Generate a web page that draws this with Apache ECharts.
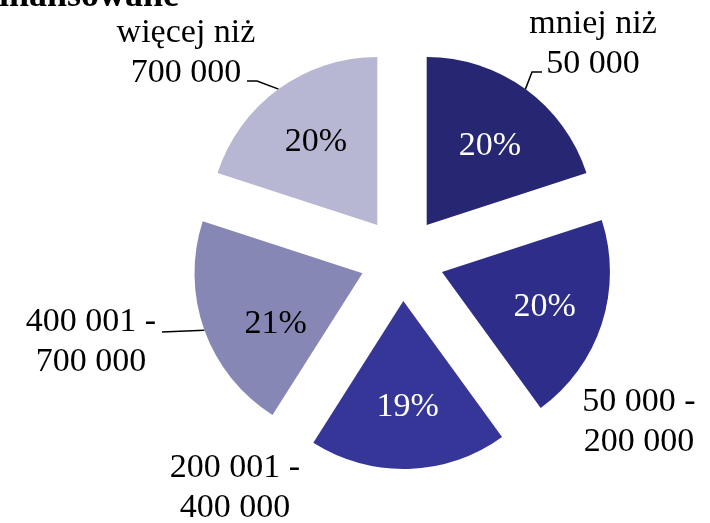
<!DOCTYPE html>
<html>
<head>
<meta charset="utf-8">
<script src="https://cdn.jsdelivr.net/npm/echarts@6/dist/echarts.min.js"></script>
<style>
html,body{margin:0;padding:0;background:#fff;}
#c{width:710px;height:523px;}
</style>
</head>
<body>
<div id="c"></div>
<script>
// Data
const titleText = 'współfinansowane';
const categories = ['mniej niż\n50 000', '50 000 -\n200 000', '200 001 -\n400 000', '400 001 -\n700 000', 'więcej niż\n700 000'];
const values = [20, 20, 19, 21, 20];
const colors = ['#262673', '#2e2e8a', '#363698', '#8787b5', '#b7b7d3'];
const pctColors = ['#ffffff', '#ffffff', '#ffffff', '#000000', '#000000'];

const FONT = '"Liberation Serif", "Times New Roman", serif';
const CX = 402, CY = 259, R = 168, OFF = 42;

// label placement (centre of each outside label block)
const labelPos = [[593, 44], [639, 422], [235, 488], [91, 342], [186, 53]];
// label line shape relative to label centre (after the default start point)
const lineRel = [
  [[-61, 28], [-51, 28]],
  null,
  null,
  [[71, -10]],
  [[71, 28], [61, 28]]
];
// small nudges of the percentage labels
const pctNudge = [[1, 7], [2, 2], [1, 0], [13, 15], [1, 3]];

const chart = echarts.init(document.getElementById('c'), null, {renderer: 'canvas'});

const sliceData = categories.map((n, i) => ({
  name: n, value: values[i], selected: true,
  itemStyle: {color: colors[i]}
}));
const labelData = categories.map((n, i) => ({
  name: n, value: values[i],
  labelLine: {show: !!lineRel[i]}
}));
const pctData = categories.map((n, i) => ({
  name: n, value: values[i],
  label: {color: pctColors[i]}
}));

chart.setOption({
  animation: false,
  title: {
    text: titleText,
    left: -106, top: -26,
    textStyle: {fontFamily: FONT, fontWeight: 'bold', fontSize: 36, color: '#000'}
  },
  series: [
    {
      type: 'pie',
      center: [CX, CY],
      radius: R,
      startAngle: 90,
      clockwise: true,
      selectedMode: 'multiple',
      selectedOffset: OFF,
      label: {show: false},
      labelLine: {show: false},
      emphasis: {disabled: true},
      select: {itemStyle: {borderWidth: 0}},
      itemStyle: {borderWidth: 0},
      data: sliceData
    },
    {
      type: 'pie',
      center: [CX, CY],
      radius: R + OFF,
      startAngle: 90,
      silent: true,
      avoidLabelOverlap: false,
      itemStyle: {color: 'rgba(0,0,0,0)'},
      emphasis: {disabled: true},
      label: {
        show: true, position: 'outside',
        formatter: p => p.name,
        fontFamily: FONT, fontSize: 34, lineHeight: 40, color: '#000',
        width: 200, overflow: 'none', align: 'center'
      },
      labelLine: {show: true, length: 10, length2: 10, lineStyle: {color: '#000', width: 1.5}},
      labelLayout: function (params) {
        const i = params.dataIndex;
        const p = labelPos[i];
        const out = {x: p[0], y: p[1], align: 'center', verticalAlign: 'middle', hideOverlap: false};
        if (lineRel[i] && params.labelLinePoints) {
          const pts = [params.labelLinePoints[0]];
          lineRel[i].forEach(r => pts.push([p[0] + r[0], p[1] + r[1]]));
          out.labelLinePoints = pts;
        }
        return out;
      },
      data: labelData
    },
    {
      type: 'pie',
      center: [CX, CY],
      radius: [124, 166],
      startAngle: 90,
      silent: true,
      itemStyle: {color: 'rgba(0,0,0,0)'},
      emphasis: {disabled: true},
      label: {
        show: true, position: 'inside',
        formatter: p => p.value + '%',
        fontFamily: FONT, fontSize: 34
      },
      labelLine: {show: false},
      labelLayout: function (params) {
        const n = pctNudge[params.dataIndex];
        return {dx: n[0], dy: n[1]};
      },
      data: pctData
    }
  ]
});
</script>
</body>
</html>
